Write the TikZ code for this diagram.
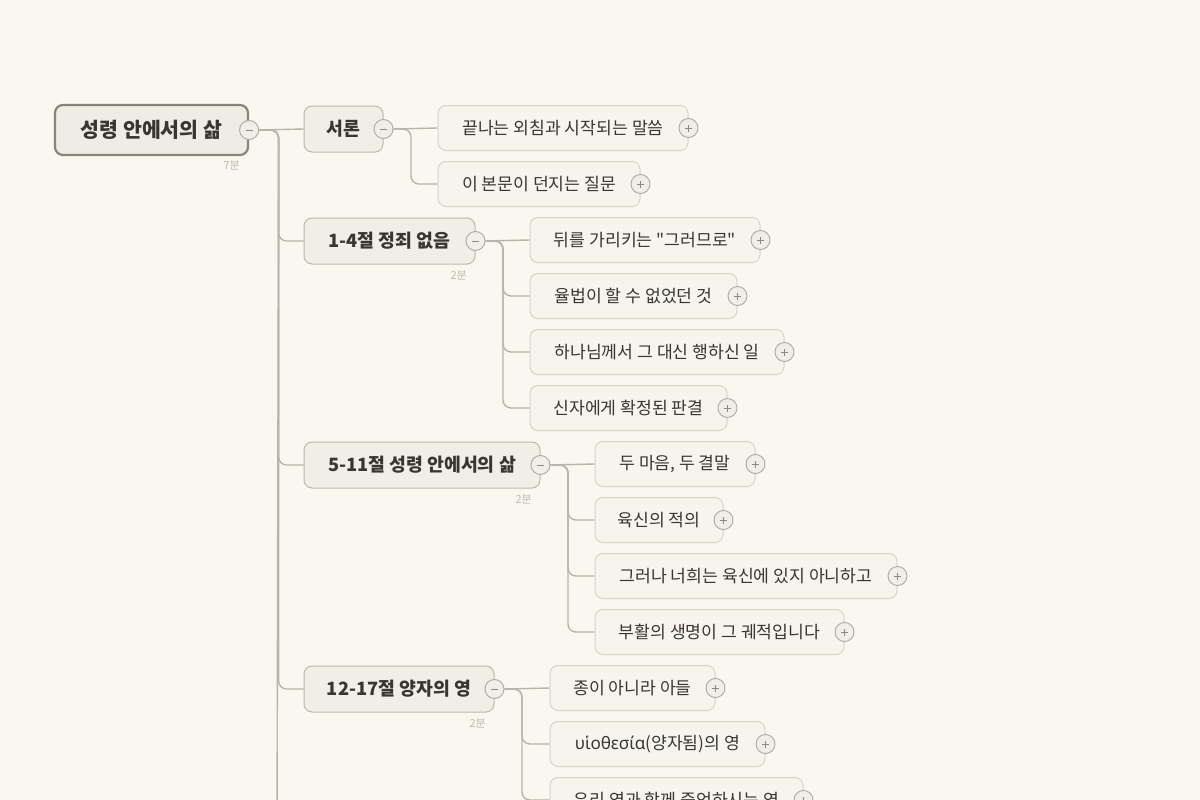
\documentclass[tikz,border=0pt]{standalone}
\usepackage{fontspec}
\setmainfont{Noto Sans CJK KR}
\newfontfamily\kr{Noto Sans CJK KR}
\newfontfamily\grk{Noto Sans}
\definecolor{bg}{HTML}{FAF7F1}
\definecolor{rootfill}{HTML}{EFEBE5}
\definecolor{rootborder}{HTML}{8B847D}
\definecolor{lonefill}{HTML}{F1EDE7}
\definecolor{loneborder}{HTML}{BEB7AF}
\definecolor{ltwofill}{HTML}{F7F4EE}
\definecolor{ltwoborder}{HTML}{D8D2CA}
\definecolor{txt}{HTML}{3A3531}
\definecolor{linec}{HTML}{BAB3AB}
\definecolor{togfill}{HTML}{F1EEE9}
\definecolor{togborder}{HTML}{B3ADA5}
\definecolor{symc}{HTML}{8F8881}
\definecolor{timec}{HTML}{BFB9B2}
\pgfdeclarelayer{bgl}
\pgfdeclarelayer{lines}
\pgfsetlayers{bgl,lines,main}
\tikzset{
  rootbox/.style={draw=rootborder, line width=2.2, fill=rootfill, rounded corners=8, minimum height=50, inner sep=0, text=txt, font=\kr\fontsize{20.5}{24}\selectfont\bfseries},
  lonebox/.style={draw=loneborder, line width=1, fill=lonefill, rounded corners=8, minimum height=46, inner sep=0, text=txt, font=\kr\fontsize{18.3}{22}\selectfont\bfseries},
  ltwobox/.style={draw=ltwoborder, line width=1, fill=ltwofill, rounded corners=8, minimum height=45, inner sep=0, text=txt, font=\kr\fontsize{17.2}{20}\selectfont},
  tog/.style={circle, draw=togborder, fill=togfill, minimum size=19, inner sep=0, line width=1},
  togminus/.style={tog, path picture={\draw[symc, line width=1] (path picture bounding box.center) ++(-3.5,0) -- ++(7,0);}},
  togplus/.style={tog, path picture={\draw[symc, line width=1] (path picture bounding box.center) ++(-3.5,0) -- ++(7,0) (path picture bounding box.center) ++(0,-3.5) -- ++(0,7);}},
  conn/.style={draw=linec, line width=1.4, rounded corners=8},
  timel/.style={font=\kr\fontsize{11}{13}\selectfont, text=timec, anchor=east, inner sep=0}
}
\begin{document}
\begin{tikzpicture}[x=1pt,y=-1pt]
\useasboundingbox (0,0) rectangle (1200,800);
\begin{pgfonlayer}{bgl}
\fill[bg] (0,0) rectangle (1200,800);
\end{pgfonlayer}
\clip (0,0) rectangle (1200,800);

\coordinate (trunkend) at (277,840);

% root
\node[rootbox, minimum width=193] (r) at (151.5,130) {성령 안에서의 삶};
\node[timel] (rt) at (240,165) {7분};

% level 1
\node[lonebox, minimum width=79] (a) at (343.5,129) {서론};
\node[lonebox, minimum width=171] (b) at (389.5,241) {1-4절 정죄 없음};
\node[timel] (bt) at (467,275) {2분};
\node[lonebox, minimum width=236] (c) at (422,465) {5-11절 성령 안에서의 삶};
\node[timel] (ct) at (532,499) {2분};
\node[lonebox, minimum width=190] (d) at (399,689) {12-17절 양자의 영};
\node[timel] (dt) at (486,723) {2분};

% level 2
\node[ltwobox, minimum width=250] (a1) at (563,128) {끝나는 외침과 시작되는 말씀};
\node[ltwobox, minimum width=202] (a2) at (539,184) {이 본문이 던지는 질문};

\node[ltwobox, minimum width=230] (b1) at (645,240) {뒤를 가리키는 "그러므로"};
\node[ltwobox, minimum width=207] (b2) at (633.5,296) {율법이 할 수 없었던 것};
\node[ltwobox, minimum width=254] (b3) at (657,352) {하나님께서 그 대신 행하신 일};
\node[ltwobox, minimum width=197] (b4) at (628.5,408) {신자에게 확정된 판결};

\node[ltwobox, minimum width=160] (c1) at (675,464) {두 마음, 두 결말};
\node[ltwobox, minimum width=128] (c2) at (659,520) {육신의 적의};
\node[ltwobox, minimum width=302] (c3) at (746,576) {그러나 너희는 육신에 있지 아니하고};
\node[ltwobox, minimum width=249] (c4) at (719.5,632) {부활의 생명이 그 궤적입니다};

\node[ltwobox, minimum width=165] (d1) at (632.5,688) {종이 아니라 아들};
\node[ltwobox, minimum width=215] (d2) at (657.5,744) {{\grk υἱοθεσία}(양자됨)의 영};
\node[ltwobox, minimum width=253] (d3) at (676.5,800) {우리 영과 함께 증언하시는 영};

% toggles
\node[togminus] (rT) at (r.east) {};
\node[togminus] (aT) at (a.east) {};
\node[togminus] (bT) at (b.east) {};
\node[togminus] (cT) at (c.east) {};
\node[togminus] (dT) at (d.east) {};
\foreach \n in {a1,a2,b1,b2,b3,b4,c1,c2,c3,c4,d1,d2,d3}{
  \node[togplus] (\n T) at (\n.east) {};
}

% connectors
\begin{pgfonlayer}{lines}
\draw[conn] (rT.east) -- ++(19.5,0) -- (trunkend);
\draw[conn] (rT.east) -- (a.west);
\foreach \n in {b,c,d}{
  \draw[conn] (rT.east) -- ++(19.5,0) |- (\n.west);
}
\draw[conn] (aT.east) -- (a1.west);
\draw[conn] (aT.east) -- ++(17.5,0) |- (a2.west);
\draw[conn] (bT.east) -- (b1.west);
\foreach \n in {b2,b3,b4}{
  \draw[conn] (bT.east) -- ++(17.5,0) |- (\n.west);
}
\draw[conn] (cT.east) -- (c1.west);
\foreach \n in {c2,c3,c4}{
  \draw[conn] (cT.east) -- ++(17.5,0) |- (\n.west);
}
\draw[conn] (dT.east) -- (d1.west);
\foreach \n in {d2,d3}{
  \draw[conn] (dT.east) -- ++(17.5,0) |- (\n.west);
}
\end{pgfonlayer}
\end{tikzpicture}
\end{document}
